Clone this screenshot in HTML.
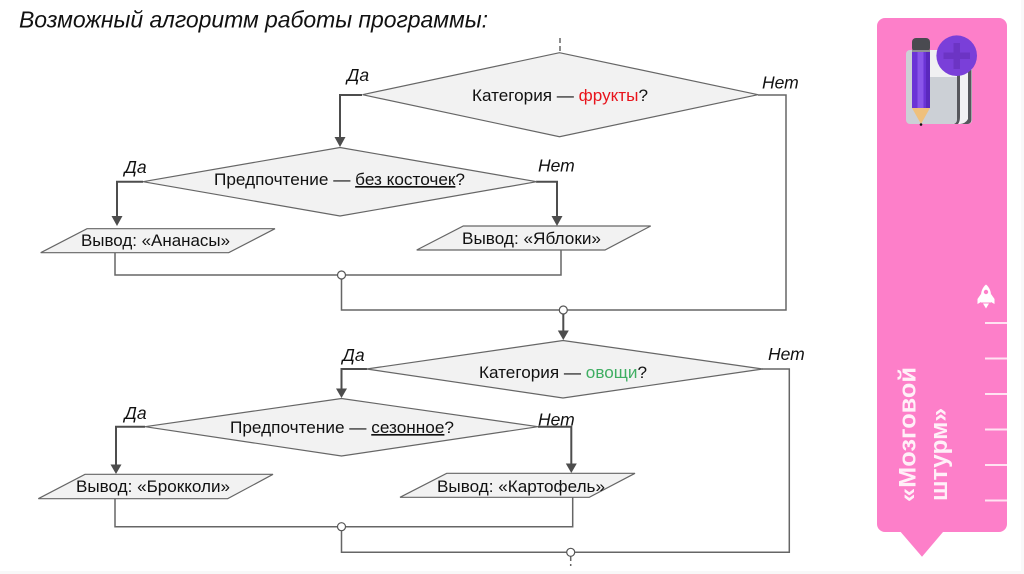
<!DOCTYPE html>
<html><head><meta charset="utf-8"><style>
html,body{margin:0;padding:0;background:#fff;width:1024px;height:574px;overflow:hidden}
svg{display:block}
text{font-family:"Liberation Sans","DejaVu Sans",sans-serif;fill:#111}
.l{font-size:17.5px;font-style:italic}
.t{font-size:16.5px}
.s{fill:#f2f2f2;stroke:#666;stroke-width:1.2}
.c{fill:none;stroke:#666;stroke-width:1.5}
.d{fill:none;stroke:#4d4d4d;stroke-width:2}
.a{fill:#4d4d4d}
.o{fill:#fff;stroke:#555;stroke-width:1.2}
</style></head><body>
<svg width="1024" height="574" viewBox="0 0 1024 574" xmlns="http://www.w3.org/2000/svg">
<rect x="0" y="0" width="1024" height="574" fill="#fff"/>
<rect x="0" y="571" width="1024" height="3" fill="#f8f8f8"/>
<rect x="1021" y="0" width="3" height="574" fill="#f9f9f9"/>
<text x="19" y="27.500" font-size="23" font-style="italic" textLength="469" lengthAdjust="spacing">Возможный алгоритм работы программы:</text>

<!-- connectors -->
<path class="c" d="M560 38V52" stroke-dasharray="5 3"/>
<path class="c" d="M758 95H786V310H341.5V275"/>
<path class="c" d="M115 253V275H561V250"/>
<path class="c" d="M115 499V526.7H572.7V497"/>
<path class="c" d="M341.500 526.700V552.300H789.300V369H762"/>
<path class="c" d="M570.700 556V561M570.700 564V566"/>
<path class="d" d="M362 95H340V138"/><polygon class="a" points="340,147 334.500,137 345.500,137"/>
<path class="d" d="M143 181.700H117V217"/><polygon class="a" points="117,226 111.500,216 122.500,216"/>
<path class="d" d="M536 181.700H557V217"/><polygon class="a" points="557,226 551.500,216 562.500,216"/>
<path class="d" d="M563.300 314V331"/><polygon class="a" points="563.300,340 557.800,330.500 568.800,330.500"/>
<path class="d" d="M367 369H341.500V389"/><polygon class="a" points="341.500,398 336,388.500 347,388.500"/>
<path class="d" d="M145 426.700H116V465"/><polygon class="a" points="116,474 110.500,464.500 121.500,464.500"/>
<path class="d" d="M538 426.700H571.300V464"/><polygon class="a" points="571.300,473 565.800,463.500 576.800,463.500"/>

<!-- shapes -->
<polygon class="s" points="362.500,94.700 559.500,52.700 758,94.700 559.500,136.700"/>
<polygon class="s" points="143,181.700 340,147.500 536.700,181.700 340,216"/>
<polygon class="s" points="40.700,252.700 87,228.700 275,228.700 228.700,252.700"/>
<polygon class="s" points="416.700,250 463.300,226 650.700,226 605,250"/>
<polygon class="s" points="366.700,369 563,340.500 762.700,369 563,398"/>
<polygon class="s" points="145,426.700 341.500,398.500 538,426.700 341.500,456"/>
<polygon class="s" points="38.300,498.700 85,474.300 273,474.300 227.700,498.700"/>
<polygon class="s" points="400,497.300 446.700,473.300 635,473.300 589.300,497.300"/>

<circle class="o" cx="341.500" cy="275" r="4"/>
<circle class="o" cx="563.300" cy="310" r="4"/>
<circle class="o" cx="341.500" cy="526.700" r="4"/>
<circle class="o" cx="570.700" cy="552.300" r="4"/>

<!-- labels -->
<text class="l" x="347" y="81">Да</text>
<text class="l" x="124.500" y="173">Да</text>
<text class="l" x="342.500" y="361">Да</text>
<text class="l" x="124.500" y="419">Да</text>
<text class="l" x="762" y="88.500">Нет</text>
<text class="l" x="538" y="171.500">Нет</text>
<text class="l" x="768" y="360">Нет</text>
<text class="l" x="538" y="425.500">Нет</text>

<text class="t" x="472" y="101" textLength="176" lengthAdjust="spacingAndGlyphs">Категория — <tspan fill="#e8141c">фрукты</tspan>?</text>
<text class="t" x="214" y="185" textLength="251" lengthAdjust="spacingAndGlyphs">Предпочтение — <tspan text-decoration="underline">без косточек</tspan>?</text>
<text class="t" x="81" y="246" textLength="149" lengthAdjust="spacingAndGlyphs">Вывод: «Ананасы»</text>
<text class="t" x="462" y="244" textLength="139" lengthAdjust="spacingAndGlyphs">Вывод: «Яблоки»</text>
<text class="t" x="479" y="378" textLength="168" lengthAdjust="spacingAndGlyphs">Категория — <tspan fill="#3fae62">овощи</tspan>?</text>
<text class="t" x="230" y="433" textLength="224" lengthAdjust="spacingAndGlyphs">Предпочтение — <tspan text-decoration="underline">сезонное</tspan>?</text>
<text class="t" x="76" y="492" textLength="154" lengthAdjust="spacingAndGlyphs">Вывод: «Брокколи»</text>
<text class="t" x="437" y="492" textLength="168" lengthAdjust="spacingAndGlyphs">Вывод: «Картофель»</text>

<!-- pink panel -->
<path fill="#fd7fc9" d="M885 18H999a8 8 0 0 1 8 8V524a8 8 0 0 1-8 8H943L922 556.700 900.700 532H885a8 8 0 0 1-8-8V26a8 8 0 0 1 8-8Z"/>
<g fill="#ffe3f2">
<rect x="985" y="322" width="22" height="2"/>
<rect x="985" y="357.500" width="22" height="2"/>
<rect x="985" y="393" width="22" height="2"/>
<rect x="985" y="428.500" width="22" height="2"/>
<rect x="985" y="464" width="22" height="2"/>
<rect x="985" y="499.500" width="22" height="2"/>
</g>
<g transform="translate(915.500 502) rotate(-90)"><text x="0" y="0" font-size="24.500" font-weight="bold" style="fill:#fff0f8" textLength="135" lengthAdjust="spacingAndGlyphs">«Мозговой</text></g>
<g transform="translate(947 501) rotate(-90)"><text x="0" y="0" font-size="24.500" font-weight="bold" style="fill:#fff0f8" textLength="93" lengthAdjust="spacingAndGlyphs">штурм»</text></g>

<!-- rocket -->
<g fill="#fff">
<path d="M986 284.500c3.500 3 5 7 5 11v7h-10v-7c0-4 1.500-8 5-11Z"/>
<path d="M981 294l-3.500 5v5l3.500-2ZM991 294l3.500 5v5l-3.500-2Z"/>
<path d="M983 303.500h6l-3 5Z"/>
</g>
<circle cx="986" cy="292" r="2.200" fill="#fd7fc9"/>

<!-- icon -->
<rect x="912" y="50" width="60" height="74" rx="4" fill="#f1f1f3"/>
<path d="M968 60h3.500v60a4 4 0 0 1-4 4h-8a9 9 0 0 0 8.500-5Z" fill="#55565c"/>
<path d="M957 50v66c0 4-1 6-3 8h4c1.500-2 2-4 2-8V50Z" fill="#55565c"/>
<rect x="906" y="50" width="51" height="74" rx="4" fill="#ccd0d6"/>
<rect x="930" y="50" width="27" height="27" fill="#f0f0f2"/>
<rect x="912" y="38" width="18" height="14" rx="4" fill="#4a4a50"/>
<rect x="912" y="50" width="18" height="2.500" fill="#8f8f95"/>
<rect x="912" y="52" width="18" height="56" fill="#6b34d6"/>
<rect x="917.500" y="52" width="6" height="56" fill="#8a55ea"/>
<rect x="926" y="52" width="4" height="56" fill="#5a28bd"/>
<path d="M912 108H930L921 124Z" fill="#efc07c"/>
<circle cx="921" cy="124.500" r="1.300" fill="#111"/>
<circle cx="956.700" cy="55.700" r="20.300" fill="#7a3fd9"/>
<path d="M953.500 43h6.500v9.500h10v6.500h-10v10h-6.500V59h-10v-6.500h10Z" fill="#6c34c4"/>
</svg>
</body></html>
